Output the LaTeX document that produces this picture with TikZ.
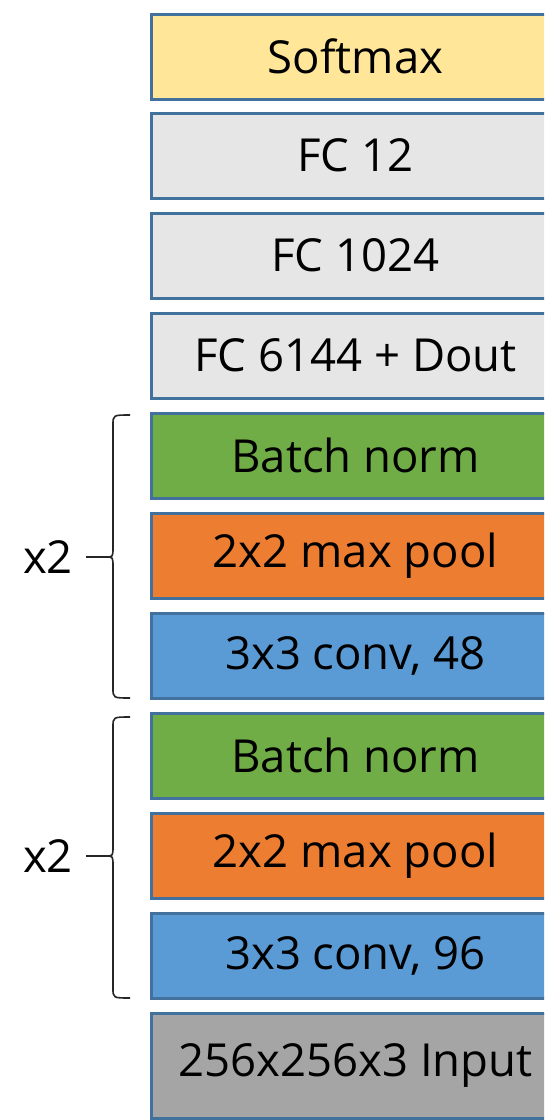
\documentclass[tikz,border=0pt]{standalone}
\usepackage{fontspec}
\setmainfont{Open Sans}
\definecolor{bordc}{HTML}{41719C}
\definecolor{softc}{HTML}{FFE699}
\definecolor{fcc}{HTML}{E7E6E6}
\definecolor{bnc}{HTML}{70AD47}
\definecolor{poolc}{HTML}{ED7D31}
\definecolor{convc}{HTML}{5B9BD5}
\definecolor{inc}{HTML}{A5A5A5}
\definecolor{bracec}{HTML}{262626}
\tikzset{
  layer/.style={draw=bordc, line width=3pt, inner sep=0pt, minimum width=409pt,
    minimum height=85pt, text=black, font=\fontsize{45.5}{45.5}\selectfont},
  lbl/.style={inner sep=0pt, text=black, font=\fontsize{45.5}{45.5}\selectfont},
  bracepath/.style={draw=bracec, line width=1.6pt}
}
\begin{document}
\begin{tikzpicture}[x=1pt, y=-1pt]
\useasboundingbox (0,0) rectangle (544,1120);
\clip (0,0) rectangle (544,1120);
\fill[white] (0,0) rectangle (544,1120);
\node[layer, fill=softc] (soft) at (355.5,56.5) {Softmax};
\node[layer, fill=fcc] (fc12) at (355.5,155.5) {FC 12};
\node[layer, fill=fcc] (fc1024) at (355.5,255.5) {FC 1024};
\node[layer, fill=fcc] (fc6144) at (355.5,355.5) {FC 6144 + Dout};
\node[layer, fill=bnc] (bn1) at (355.5,455.5) {Batch norm};
\node[layer, fill=poolc] (pool1) at (355.5,555.5) {2x2 max pool};
\node[layer, fill=convc] (conv1) at (355.5,655.5) {3x3 conv, 48};
\node[layer, fill=bnc] (bn2) at (355.5,755.5) {Batch norm};
\node[layer, fill=poolc] (pool2) at (355.5,855.5) {2x2 max pool};
\node[layer, fill=convc] (conv2) at (355.5,955.5) {3x3 conv, 96};
\node[layer, fill=inc, minimum height=105pt] (inp) at (355.5,1065.5) {256x256x3 Input};
% braces
\draw[bracepath] (130,415) .. controls (113,415) .. (113,425) -- (113,547)
  .. controls (113,557) .. (106,557) .. controls (113,557) .. (113,567)
  -- (113,688) .. controls (113,698) .. (130,698);
\draw[bracepath] (86,557) -- (106,557);
\draw[bracepath] (130,717) .. controls (113,717) .. (113,727) -- (113,846)
  .. controls (113,856) .. (106,856) .. controls (113,856) .. (113,866)
  -- (113,988) .. controls (113,998) .. (130,998);
\draw[bracepath] (86,856) -- (106,856);
\node[lbl] (rep1) at (48,557) {x2};
\node[lbl] (rep2) at (48,856) {x2};
\end{tikzpicture}
\end{document}
